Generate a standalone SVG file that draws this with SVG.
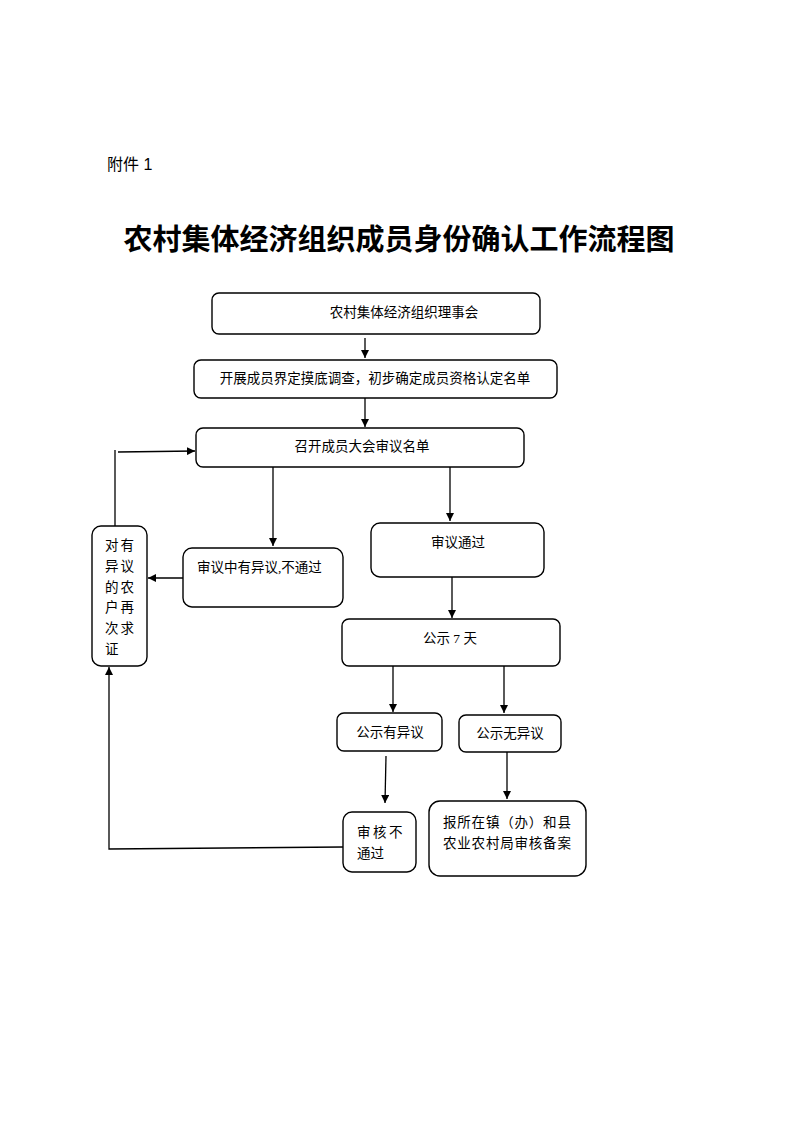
<svg xmlns="http://www.w3.org/2000/svg" width="793" height="1122" viewBox="0 0 793 1122">
<style>
.box{fill:#fff;stroke:#000;stroke-width:1.4}
.t{font-family:"Liberation Serif","Noto Sans CJK SC",serif;font-size:13.5px;fill:#000}
.c{text-anchor:middle}
.ln{fill:none;stroke:#000;stroke-width:1.3}
</style>
<defs>
<marker id="ah" viewBox="0 0 10 10" refX="10" refY="5" markerWidth="8" markerHeight="8" markerUnits="userSpaceOnUse" orient="auto">
<path d="M0,0 L10,5 L0,10 z" fill="#000"/>
</marker>
</defs>
<rect width="793" height="1122" fill="#fff"/>
<text x="107" y="170" font-family="Liberation Sans,'Noto Sans CJK SC',sans-serif" font-size="16" fill="#000">附件 1</text>
<text x="399" y="249.5" text-anchor="middle" font-family="'Noto Sans CJK SC',sans-serif" font-weight="bold" font-size="29" fill="#000">农村集体经济组织成员身份确认工作流程图</text>

<g id="n1"><rect class="box" x="212" y="293" width="328" height="41" rx="7"/><text class="t c" x="404" y="317">农村集体经济组织理事会</text></g>
<g id="n2"><rect class="box" x="194" y="360" width="363" height="38" rx="7"/><text class="t c" x="375" y="383">开展成员界定摸底调查，初步确定成员资格认定名单</text></g>
<g id="n3"><rect class="box" x="196" y="428" width="328" height="39" rx="7"/><text class="t c" x="362" y="451">召开成员大会审议名单</text></g>
<g id="n4"><rect class="box" x="183" y="548" width="160" height="59" rx="9"/><text class="t" x="197" y="572">审议中有异议,不通过</text></g>
<g id="n5"><rect class="box" x="92" y="526" width="55" height="140" rx="9"/>
<text class="t" x="105" y="550" letter-spacing="2">对有</text>
<text class="t" x="105" y="571" letter-spacing="2">异议</text>
<text class="t" x="105" y="592" letter-spacing="2">的农</text>
<text class="t" x="105" y="612" letter-spacing="2">户再</text>
<text class="t" x="105" y="633" letter-spacing="2">次求</text>
<text class="t" x="105" y="654">证</text></g>
<g id="n6"><rect class="box" x="371" y="523" width="173" height="54" rx="9"/><text class="t c" x="458" y="547">审议通过</text></g>
<g id="n7"><rect class="box" x="342" y="619" width="218" height="47" rx="7"/><text class="t c" x="450" y="643">公示 7 天</text></g>
<g id="n8"><rect class="box" x="337" y="713" width="105" height="38" rx="7"/><text class="t c" x="390" y="737">公示有异议</text></g>
<g id="n9"><rect class="box" x="459" y="715" width="102" height="37" rx="7"/><text class="t c" x="510" y="738">公示无异议</text></g>
<g id="n10"><rect class="box" x="343" y="812" width="73" height="60" rx="9"/>
<text class="t" x="357" y="837" letter-spacing="2.5">审核不</text>
<text class="t" x="357" y="858">通过</text></g>
<g id="n11"><rect class="box" x="429" y="801" width="157" height="75" rx="11"/>
<text class="t" x="443" y="827" letter-spacing="0.8">报所在镇（办）和县</text>
<text class="t" x="443" y="848" letter-spacing="0.8">农业农村局审核备案</text></g>

<g id="connectors">
<line class="ln" x1="365" y1="338" x2="365" y2="358" marker-end="url(#ah)"/>
<line class="ln" x1="365" y1="398" x2="365" y2="427" marker-end="url(#ah)"/>
<line class="ln" x1="273" y1="467" x2="273" y2="546" marker-end="url(#ah)"/>
<line class="ln" x1="450" y1="467" x2="450" y2="521" marker-end="url(#ah)"/>
<line class="ln" x1="183" y1="578" x2="148" y2="578" marker-end="url(#ah)"/>
<line class="ln" x1="115" y1="526" x2="115" y2="450"/>
<line class="ln" x1="118" y1="452" x2="195" y2="451" marker-end="url(#ah)"/>
<line class="ln" x1="452" y1="577" x2="452" y2="618" marker-end="url(#ah)"/>
<line class="ln" x1="393" y1="666" x2="393" y2="712" marker-end="url(#ah)"/>
<line class="ln" x1="504" y1="666" x2="504" y2="713" marker-end="url(#ah)"/>
<line class="ln" x1="386" y1="756" x2="385" y2="803" marker-end="url(#ah)"/>
<line class="ln" x1="507" y1="752" x2="507" y2="799" marker-end="url(#ah)"/>
<polyline class="ln" points="343,847 109,849 109,667" marker-end="url(#ah)"/>
</g>
</svg>
